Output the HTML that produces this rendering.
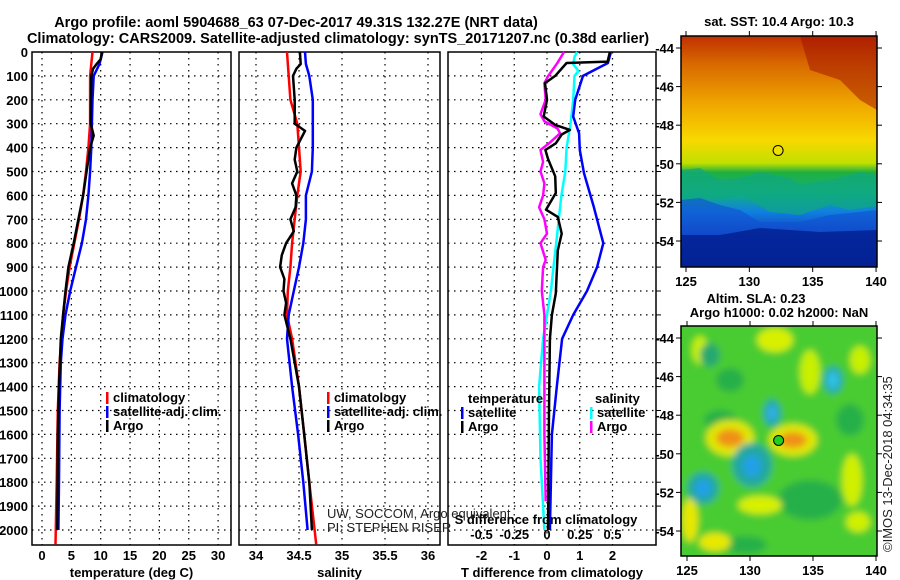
<!DOCTYPE html>
<html><head><meta charset="utf-8">
<style>
html,body{margin:0;padding:0;background:#fff;}
svg{display:block;font-family:"Liberation Sans",sans-serif;}
.t{font-weight:bold;font-size:14.5px;}
.tk{font-weight:bold;font-size:13px;}
.lg{font-weight:bold;font-size:13px;}
.thin{font-size:13px;fill:#222;}
</style></head>
<body>
<svg id="chart" width="900" height="580" viewBox="0 0 900 580" xmlns="http://www.w3.org/2000/svg">
<defs>
<linearGradient id="sstg" x1="0" y1="0" x2="0" y2="1">
<stop offset="0" stop-color="#c03000"/>
<stop offset="0.12" stop-color="#d86800"/>
<stop offset="0.3" stop-color="#f0a800"/>
<stop offset="0.45" stop-color="#f8d800"/>
<stop offset="0.55" stop-color="#c0e000"/>
<stop offset="0.59" stop-color="#20b040"/>
<stop offset="0.68" stop-color="#10b080"/>
<stop offset="0.76" stop-color="#1080e0"/>
<stop offset="0.86" stop-color="#1040c0"/>
<stop offset="1" stop-color="#001080"/>
</linearGradient>
<filter id="blur" x="-50%" y="-50%" width="200%" height="200%"><feGaussianBlur stdDeviation="3.5"/></filter>
<clipPath id="m2clip"><rect x="681" y="326" width="196" height="230"/></clipPath>
<clipPath id="m1clip"><rect x="681" y="36" width="196" height="231"/></clipPath>
</defs>
<text class="t" x="296" y="27" text-anchor="middle">Argo profile: aoml 5904688_63 07-Dec-2017 49.31S 132.27E (NRT data)</text>
<text class="t" x="338" y="43" text-anchor="middle">Climatology: CARS2009. Satellite-adjusted climatology: synTS_20171207.nc (0.38d earlier)</text>
<g id="panels"></g>
<g id="maps"></g>
<text class="thin" x="327" y="518">UW, SOCCOM, Argo equivalent</text>
<text class="thin" x="327" y="532">PI: STEPHEN RISER</text>
<text x="892" y="552" class="thin" transform="rotate(-90 892 552)">©IMOS 13-Dec-2018 04:34:35</text>
</svg>
<script>
// ---- data ----
const depthTicks = [0,100,200,300,400,500,600,700,800,900,1000,1100,1200,1300,1400,1500,1600,1700,1800,1900,2000];
const tempTicks = [0,5,10,15,20,25,30];
const salTicks = [34,34.5,35,35.5,36];
const salTickLabels = ["34","34.5","35","35.5","36"];
const tdTicks = [-2,-1,0,1,2];
const sdTicks = [-0.5,-0.25,0,0.25,0.5];
const sdTickLabels = ["-0.5","-0.25","0","0.25","0.5"];

const climTdep = [0,100,300,400,500,600,700,800,900,1000,1100,1200,1300,1500,1800,2060];
const climT = [8.6,8.2,8.2,7.9,7.5,7.0,6.3,5.5,4.7,4.1,3.6,3.3,3.0,2.7,2.5,2.3];
const satTdep = [0,50,100,200,400,500,600,700,800,900,1000,1100,1200,1300,1500,1800,2000];
const satT = [10.3,9.8,8.8,8.6,8.4,8.2,7.9,7.5,6.8,5.8,4.8,4.0,3.5,3.2,3.0,2.9,2.8];
const argoTdep = [0,30,50,70,100,300,350,400,500,600,700,800,900,1000,1100,1200,1400,1600,2000];
const argoT = [10.2,10.0,9.3,8.7,8.4,8.3,8.8,8.2,7.6,7.0,6.2,5.4,4.5,4.0,3.6,3.2,2.9,2.7,2.6];

const climSdep = [0,100,200,300,400,500,600,700,800,900,1000,1100,1200,1400,1600,1800,2060];
const climS = [34.36,34.38,34.40,34.48,34.50,34.52,34.48,34.45,34.42,34.40,34.37,34.36,34.42,34.50,34.56,34.62,34.70];
const satSdep = [0,50,100,200,400,500,600,700,800,900,1000,1100,1200,1400,1600,1800,2000];
const satS = [34.57,34.58,34.62,34.66,34.66,34.65,34.58,34.58,34.55,34.50,34.44,34.38,34.36,34.42,34.49,34.55,34.60];
const argoSdep = [0,50,70,100,200,300,330,400,450,500,550,600,650,700,750,800,850,900,950,1000,1050,1100,1200,1400,1600,1800,2000];
const argoS = [34.51,34.52,34.47,34.43,34.45,34.45,34.57,34.47,34.45,34.48,34.42,34.47,34.46,34.40,34.44,34.35,34.30,34.28,34.33,34.32,34.35,34.33,34.40,34.50,34.56,34.62,34.65];

const satTdDep = [0,46,100,200,270,340,410,507,648,800,900,1000,1100,1200,1400,1600,2000];
const satTd = [1.95,1.86,1.1,0.86,0.8,0.98,1.0,1.13,1.43,1.72,1.53,1.22,0.8,0.46,0.3,0.15,0.09];
const argoTdDep = [0,40,46,100,130,200,270,305,326,345,382,410,447,520,590,660,690,760,830,1010,1100,1200,1500,2000];
const argoTd = [1.92,1.85,0.6,0.25,-0.06,0.0,-0.1,0.25,0.7,0.45,0.27,-0.05,0.03,0.25,0.27,-0.03,0.33,0.45,0.33,0.27,0.15,0.09,0.06,0.03];
const satSdDep = [0,20,50,80,100,200,300,400,500,600,700,800,900,1000,1100,1200,1400,1700,2000];
const satSd = [0.23,0.21,0.2,0.24,0.21,0.2,0.18,0.15,0.14,0.11,0.09,0.07,0.05,0.03,0.0,-0.03,-0.06,-0.05,-0.02];
const argoSdDep = [0,45,100,130,200,260,290,320,340,380,410,460,500,550,600,650,700,760,800,870,900,1000,1100,1400,1600,1880];
const argoSd = [0.13,0.08,0.01,-0.02,-0.01,-0.05,-0.02,0.08,0.1,0.02,-0.05,-0.03,-0.05,-0.02,-0.03,-0.06,-0.02,0.0,-0.05,-0.01,-0.03,-0.04,-0.02,-0.02,-0.02,-0.01];

const lonTicks = [125,130,135,140];
const latTicks = [-44,-46,-48,-50,-52,-54];
const argoLon = 132.27, argoLat = -49.31;

// ---- helpers ----
const NS = "http://www.w3.org/2000/svg";
function mk(tag, attrs, parent){const e=document.createElementNS(NS,tag);for(const k in attrs)e.setAttribute(k,attrs[k]);parent.appendChild(e);return e;}
const top0=52, bot=545;
const yD = d => top0 + d*0.239;
const panels = document.getElementById('panels');

function panel(name, x0, x1, xs, ticks, labels, xlabel){
  const g = mk('g',{},panels);
  
  
  depthTicks.forEach(d=>{ if(d>0) mk('line',{x1:x0,x2:x1,y1:yD(d),y2:yD(d),stroke:'#000','stroke-width':1.2,'stroke-dasharray':'1.5 4.5'},g);});
  ticks.forEach((t,i)=>{
    const x=xs(t);
    mk('line',{x1:x,x2:x,y1:top0,y2:bot,stroke:'#000','stroke-width':1.2,'stroke-dasharray':'1.5 4.5'},g);
    if(labels){const tx=mk('text',{x:x,y:560,'text-anchor':'middle',class:'tk'},g);tx.textContent=labels[i];
      
      }
  });
  mk('rect',{x:x0,y:top0,width:x1-x0,height:bot-top0,fill:'none',stroke:'#000','stroke-width':1.5},g);
  const xl=mk('text',{x:(x0+x1)/2,y:577,'text-anchor':'middle',class:'tk'},g);xl.textContent=xlabel;
  
  
  return g;
}
function line(g, xs, deps, vals, color, name){
  const pts = deps.map((d,i)=>xs(vals[i]).toFixed(1)+','+yD(d).toFixed(1)).join(' ');
  const p = mk('polyline',{points:pts,fill:'none',stroke:color,'stroke-width':2.5,'stroke-linejoin':'round'},g);
  
  
}
function legend(g, x, y, items){
  items.forEach((it,i)=>{
    mk('rect',{x:x,y:y+i*14-10,width:2.5,height:12,fill:it[1]},g);
    const t=mk('text',{x:x+7,y:y+i*14,class:'lg'},g);t.textContent=it[0];
    
    
  });
}

depthTicks.forEach(d=>{const t=mk('text',{x:28,y:yD(d)+5,'text-anchor':'end',class:'tk'},panels);t.textContent=d;
  
  });

const xT = v => 42 + v*5.87;
const g1 = panel('temperature-panel',32,231,xT,tempTicks,tempTicks.map(String),'temperature (deg C)');
line(g1,xT,climTdep,climT,'#f00','climatology-temp-line');
line(g1,xT,satTdep,satT,'#00f','satellite-temp-line');
line(g1,xT,argoTdep,argoT,'#000','argo-temp-line');
legend(g1,106,402,[['climatology','#f00'],['satellite-adj. clim.','#00f'],['Argo','#000']]);

const xS = v => 256 + (v-34)*86;
const g2 = panel('salinity-panel',239,440,xS,salTicks,salTickLabels,'salinity');
line(g2,xS,climSdep,climS,'#f00','climatology-sal-line');
line(g2,xS,satSdep,satS,'#00f','satellite-sal-line');
line(g2,xS,argoSdep,argoS,'#000','argo-sal-line');
legend(g2,327,402,[['climatology','#f00'],['satellite-adj. clim.','#00f'],['Argo','#000']]);

const xTd = v => 547 + v*32.75;
const xSd = v => 547 + v*131;
const g3 = panel('difference-panel',448,656,xTd,tdTicks,tdTicks.map(String),'T difference from climatology');
depthTicks.forEach(d=>{ if(d>0) mk('line',{x1:656,x2:661,y1:yD(d),y2:yD(d),stroke:'#000','stroke-width':1},g3);});
line(g3,xSd,satSdDep,satSd,'#0ff','satellite-sdiff-line');
line(g3,xSd,argoSdDep,argoSd,'#f0f','argo-sdiff-line');
line(g3,xTd,satTdDep,satTd,'#00f','satellite-tdiff-line');
line(g3,xTd,argoTdDep,argoTd,'#000','argo-tdiff-line');
{const t=mk('text',{x:468,y:403,class:'lg'},g3);t.textContent='temperature';
 
 
 const s=mk('text',{x:595,y:403,class:'lg'},g3);s.textContent='salinity';
 
 }
legend(g3,461,417,[['satellite','#00f'],['Argo','#000']]);
legend(g3,590,417,[['satellite','#0ff'],['Argo','#f0f']]);
{const t=mk('text',{x:546,y:524,'text-anchor':'middle',class:'tk'},g3);t.textContent='S difference from climatology';
 
 
 sdTicks.forEach((v,i)=>{const l=mk('text',{x:xSd(v),y:539,'text-anchor':'middle',class:'tk'},g3);l.textContent=sdTickLabels[i];
  
  });}

// ---- maps ----
const maps = document.getElementById('maps');
function mapGroup(name){
  const g = mk('g',{},maps);
  
  
  return g;
}
function mapFrame(g,x0,y0,x1,y1,lonX,latY){
  mk('rect',{x:x0,y:y0,width:x1-x0,height:y1-y0,fill:'none',stroke:'#000','stroke-width':1.5},g);
  lonTicks.forEach(v=>{const x=lonX(v);
    mk('line',{x1:x,x2:x,y1:y0-5,y2:y0,stroke:'#000'},g);mk('line',{x1:x,x2:x,y1:y1,y2:y1+5,stroke:'#000'},g);
    const t=mk('text',{x:x,y:y1+19,'text-anchor':'middle',class:'tk'},g);t.textContent=v;
    
    });
  latTicks.forEach(v=>{const y=latY(v);
    mk('line',{x1:x0-5,x2:x0,y1:y,y2:y,stroke:'#000'},g);mk('line',{x1:x1,x2:x1+5,y1:y,y2:y,stroke:'#000'},g);
    const t=mk('text',{x:x0-7,y:y+5,'text-anchor':'end',class:'tk'},g);t.textContent=v;
    
    });
}
const lon1 = v => 686 + (v-125)*12.67;
const lat1 = v => 48 + (-44-v)*19.3;
const m1 = mapGroup('sst-map');
const m1c = mk('g',{'clip-path':'url(#m1clip)'},m1);
mk('rect',{x:681,y:36,width:196,height:231,fill:'url(#sstg)'},m1c);
mk('path',{d:'M681,170 L700,168 L720,180 L740,178 L760,172 L790,178 L800,185 L830,180 L860,172 L877,175 L877,206 L850,210 L830,205 L800,215 L770,212 L740,195 L720,200 L700,198 L681,200 Z',fill:'#10a880',opacity:0.7},m1c);
mk('path',{d:'M681,200 L700,198 L720,205 L740,210 L760,222 L800,222 L830,215 L877,210 L877,267 L681,267 Z',fill:'#1050d0',opacity:0.6},m1c);
mk('path',{d:'M681,235 L720,235 L760,228 L820,232 L877,230 L877,267 L681,267 Z',fill:'#001888',opacity:0.7},m1c);
mk('path',{d:'M800,36 L877,36 L877,110 L860,100 L840,80 L810,70 Z',fill:'#a01000',opacity:0.5},m1c);
mapFrame(m1,681,36,877,267,lon1,lat1);
{const c=mk('circle',{cx:lon1(argoLon),cy:lat1(argoLat),r:5,fill:'#f0e000',stroke:'#000','stroke-width':1},m1);
 
 
 const t=mk('text',{x:779,y:26,'text-anchor':'middle',class:'tk'},m1);t.textContent='sat. SST: 10.4 Argo: 10.3';
 
 }

const lon2 = v => 687 + (v-125)*12.6;
const lat2 = v => 338 + (-44-v)*19.3;
const m2 = mapGroup('sla-map');
const m2c = mk('g',{'clip-path':'url(#m2clip)',filter:'url(#blur)'},m2);
mk('rect',{x:660,y:310,width:240,height:260,fill:'#48cc30'},m2c);
const blobs=[
[810,500,32,20,'#28b048'],[850,420,14,16,'#28b048'],[745,545,22,9,'#28b048'],[720,420,16,10,'#28b048'],[730,380,14,12,'#28b048'],
[775,340,18,12,'#d8f000'],[810,372,10,22,'#c8f000'],[690,520,8,22,'#e8e800'],[760,505,22,9,'#d8f000'],[715,542,16,9,'#e8e800'],
[852,480,10,26,'#d0f000'],[858,522,12,10,'#d0f000'],[700,350,8,14,'#c8f000'],[860,360,10,14,'#c8f000'],
[730,438,24,18,'#e0e800'],[793,440,24,16,'#e0e800'],
[730,438,14,9,'#f09018'],[793,440,14,8,'#f09018'],
[752,465,20,22,'#20a8a0'],[703,488,16,16,'#20a8a0'],[772,413,9,14,'#20a8a0'],[833,380,10,14,'#20a8a0'],[710,355,10,12,'#28a870'],
[752,466,9,11,'#20a0e8'],[703,488,8,9,'#20a0e8'],[772,413,5,8,'#30b0e8'],[833,380,6,9,'#30c0e8']];
blobs.forEach(b=>{ mk('ellipse',{cx:b[0],cy:b[1],rx:b[2],ry:b[3],fill:b[4]},m2c);});
mapFrame(m2,681,326,877,556,lon2,lat2);
{const c=mk('circle',{cx:lon2(argoLon),cy:lat2(argoLat),r:5,fill:'#20d020',stroke:'#000','stroke-width':1},m2);
 
 
 const t=mk('text',{x:756,y:303,'text-anchor':'middle',class:'tk'},m2);t.textContent='Altim. SLA: 0.23';
 
 
 const t2=mk('text',{x:779,y:317,'text-anchor':'middle',class:'tk'},m2);t2.textContent='Argo h1000: 0.02 h2000: NaN';
 
 }
</script>
</body></html>
